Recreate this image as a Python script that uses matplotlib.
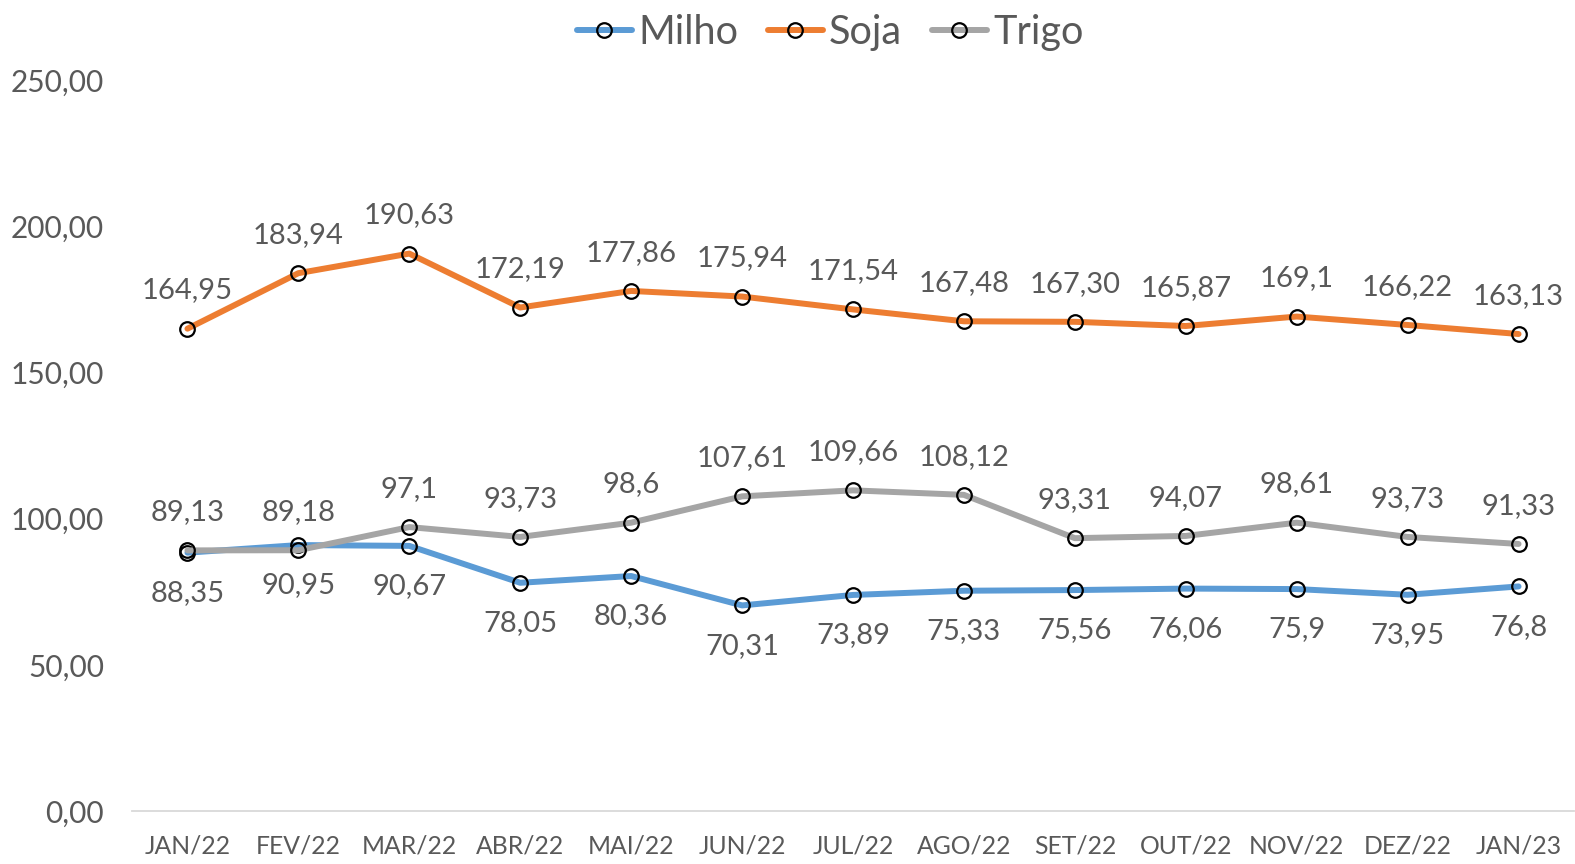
import matplotlib
matplotlib.use("Agg")
import matplotlib.pyplot as plt

months = ["JAN/22", "FEV/22", "MAR/22", "ABR/22", "MAI/22", "JUN/22", "JUL/22",
          "AGO/22", "SET/22", "OUT/22", "NOV/22", "DEZ/22", "JAN/23"]
milho = [88.35, 90.95, 90.67, 78.05, 80.36, 70.31, 73.89, 75.33, 75.56, 76.06, 75.9, 73.95, 76.8]
milho_lbl = ["88,35", "90,95", "90,67", "78,05", "80,36", "70,31", "73,89", "75,33", "75,56",
             "76,06", "75,9", "73,95", "76,8"]
soja = [164.95, 183.94, 190.63, 172.19, 177.86, 175.94, 171.54, 167.48, 167.30, 165.87, 169.1, 166.22, 163.13]
soja_lbl = ["164,95", "183,94", "190,63", "172,19", "177,86", "175,94", "171,54", "167,48",
            "167,30", "165,87", "169,1", "166,22", "163,13"]
trigo = [89.13, 89.18, 97.1, 93.73, 98.6, 107.61, 109.66, 108.12, 93.31, 94.07, 98.61, 93.73, 91.33]
trigo_lbl = ["89,13", "89,18", "97,1", "93,73", "98,6", "107,61", "109,66", "108,12", "93,31",
             "94,07", "98,61", "93,73", "91,33"]
yticks = [0, 50, 100, 150, 200, 250]
ytick_lbl = ["0,00", "50,00", "100,00", "150,00", "200,00", "250,00"]

plt.rcParams['font.family'] = ['Lato', 'DejaVu Sans']
txt = "#595959"

fig = plt.figure(figsize=(15.75, 8.64), dpi=100)
ax = fig.add_axes([132/1575, 1 - 811/864, (1574-132)/1575, (811-80)/864])

x = list(range(len(months)))
series = [("Milho", milho, milho_lbl, "#5B9BD5", -1),
          ("Soja", soja, soja_lbl, "#ED7D31", 1),
          ("Trigo", trigo, trigo_lbl, "#A5A5A5", 1)]
for name, vals, lbls, col, side in series:
    ax.plot(x, vals, color=col, lw=4.3, marker="o", ms=10.5, mfc="none", mec="black",
            mew=1.6, label=name, solid_capstyle="round", zorder=3)
    off = 27.5 if side > 0 else -29
    for xi, v, l in zip(x, vals, lbls):
        ax.annotate(l, (xi, v), xytext=(0, off), textcoords="offset points",
                    ha="center", va="center", fontsize=21, color=txt)

ax.set_xlim(-0.5, len(months) - 0.5)
ax.set_ylim(0, 250)
ax.set_yticks(yticks)
ax.set_yticklabels(ytick_lbl, fontsize=21.5, color=txt)
ax.set_xticks(x)
ax.set_xticklabels(months, fontsize=17.8, color=txt)
ax.tick_params(length=0)
ax.tick_params(axis="y", pad=20)
ax.tick_params(axis="x", pad=17)
for s in ["top", "right", "left"]:
    ax.spines[s].set_visible(False)
ax.spines["bottom"].set_color("#D9D9D9")
ax.spines["bottom"].set_linewidth(1.3)

leg = fig.legend(loc="upper center", bbox_to_anchor=(0.527, 1.025), ncol=3, frameon=False,
                 fontsize=28.5, handlelength=1.4, handletextpad=0.15, columnspacing=0.75,
                 labelcolor=txt)
fig.savefig("out.png", dpi=100)
